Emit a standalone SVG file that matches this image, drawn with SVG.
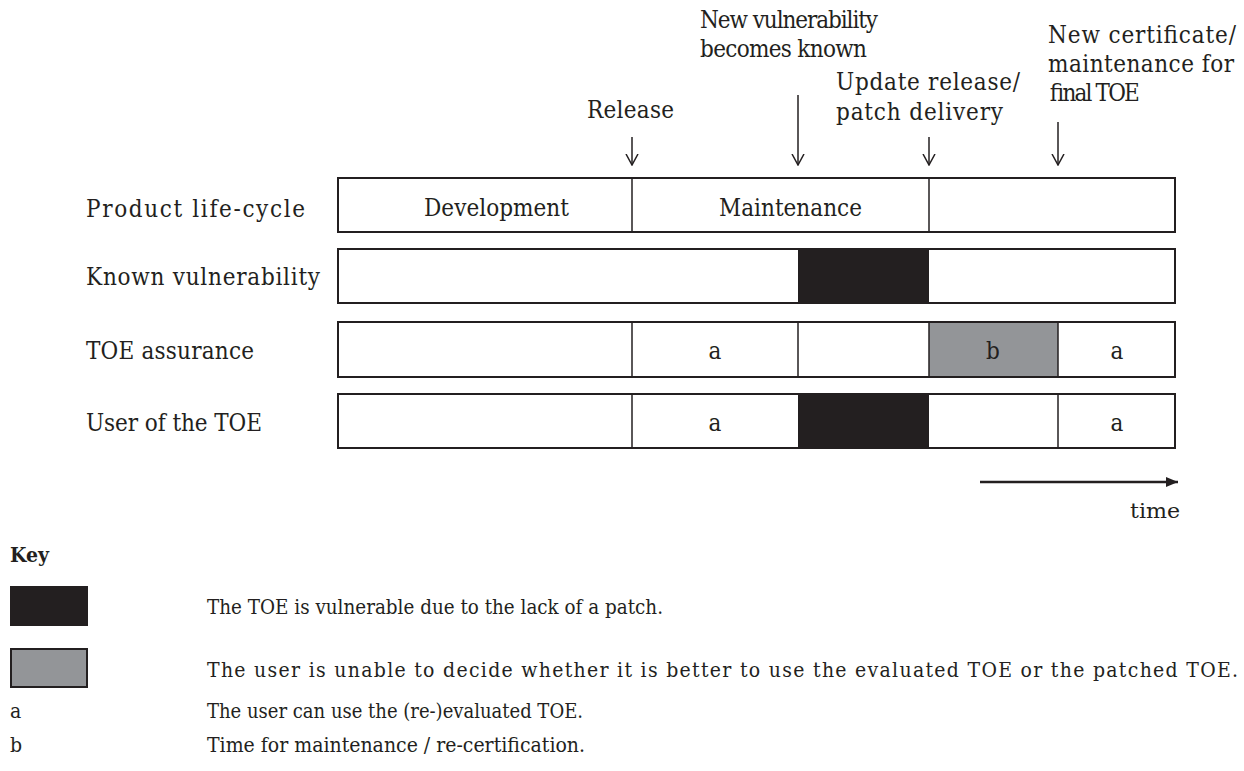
<svg xmlns="http://www.w3.org/2000/svg" width="1244" height="771" viewBox="0 0 1244 771">
<style>
.lbl{font-family:"DejaVu Serif Condensed","DejaVu Serif",serif;font-stretch:condensed;font-size:24px;fill:#231f20}
.key{font-family:"DejaVu Serif Condensed","DejaVu Serif",serif;font-stretch:condensed;font-size:21px;fill:#231f20}
.bar{fill:#fff;stroke:#231f20;stroke-width:2}
.div{stroke:#231f20;stroke-width:1.5}
.blk{fill:#231f20}
.gry{fill:#939598}
.arr{stroke:#231f20;stroke-width:1.5;fill:none}
</style>
<defs>
<marker id="open" viewBox="0 0 12 14" refX="11" refY="7" markerWidth="12" markerHeight="14" markerUnits="userSpaceOnUse" orient="auto">
<path d="M0,1 L11,7 L0,13" fill="none" stroke="#231f20" stroke-width="1.5"/>
</marker>
<marker id="fill" viewBox="0 0 12 10" refX="12" refY="5" markerWidth="12" markerHeight="10" markerUnits="userSpaceOnUse" orient="auto">
<path d="M0,0 L12,5 L0,10 Z" fill="#231f20"/>
</marker>
</defs>

<g id="event-labels">
<text class="lbl" x="587" y="118" textLength="87">Release</text>
<text class="lbl" x="700" y="28" textLength="178">New vulnerability</text>
<text class="lbl" x="700" y="57" textLength="167">becomes known</text>
<text class="lbl" x="836" y="90" textLength="184">Update release/</text>
<text class="lbl" x="836" y="120" textLength="167">patch delivery</text>
<text class="lbl" x="1048" y="43" textLength="188">New certificate/</text>
<text class="lbl" x="1048" y="72" textLength="186">maintenance for</text>
<text class="lbl" x="1048" y="101" textLength="90">final TOE</text>
</g>

<g id="connectors">
<line class="arr" x1="632" y1="137" x2="632" y2="165" marker-end="url(#open)"/>
<line class="arr" x1="798" y1="95" x2="798" y2="165" marker-end="url(#open)"/>
<line class="arr" x1="929" y1="137" x2="929" y2="165" marker-end="url(#open)"/>
<line class="arr" x1="1058" y1="122" x2="1058" y2="165" marker-end="url(#open)"/>
<line x1="980" y1="482" x2="1178" y2="482" stroke="#231f20" stroke-width="2.5" marker-end="url(#fill)"/>
</g>

<g id="row-labels">
<text class="lbl" x="86" y="217" textLength="219">Product life-cycle</text>
<text class="lbl" x="86" y="285" textLength="234">Known vulnerability</text>
<text class="lbl" x="86" y="359" textLength="168">TOE assurance</text>
<text class="lbl" x="86" y="431" textLength="176">User of the TOE</text>
</g>

<g id="row-product">
<rect class="bar" x="338" y="178" width="837" height="54"/>
<line class="div" x1="632" y1="178" x2="632" y2="232"/>
<line class="div" x1="929" y1="178" x2="929" y2="232"/>
<text class="lbl" x="424" y="216" textLength="145">Development</text>
<text class="lbl" x="719" y="216" textLength="143">Maintenance</text>
</g>

<g id="row-known">
<rect class="bar" x="338" y="249" width="837" height="54"/>
<rect class="blk" x="798" y="249" width="131" height="54"/>
</g>

<g id="row-assurance">
<rect class="bar" x="338" y="322" width="837" height="55"/>
<rect class="gry" x="929" y="322" width="129" height="55"/>
<line class="div" x1="632" y1="322" x2="632" y2="377"/>
<line class="div" x1="798" y1="322" x2="798" y2="377"/>
<line class="div" x1="929" y1="322" x2="929" y2="377"/>
<line class="div" x1="1058" y1="322" x2="1058" y2="377"/>
<rect x="338" y="322" width="837" height="55" fill="none" stroke="#231f20" stroke-width="2"/>
<text class="lbl" x="715" y="359" text-anchor="middle">a</text>
<text class="lbl" x="993" y="359" text-anchor="middle">b</text>
<text class="lbl" x="1117" y="359" text-anchor="middle">a</text>
</g>

<g id="row-user">
<rect class="bar" x="338" y="394" width="837" height="54"/>
<rect class="blk" x="798" y="394" width="131" height="54"/>
<line class="div" x1="632" y1="394" x2="632" y2="448"/>
<line class="div" x1="1058" y1="394" x2="1058" y2="448"/>
<text class="lbl" x="715" y="431" text-anchor="middle">a</text>
<text class="lbl" x="1117" y="431" text-anchor="middle">a</text>
</g>

<g id="time-label">
<text class="key" x="1130" y="518" textLength="50" lengthAdjust="spacingAndGlyphs">time</text>
</g>

<g id="key">
<text class="key" x="10" y="562" font-weight="bold">Key</text>
<rect class="blk" x="10" y="586" width="78" height="40"/>
<rect class="gry" x="11" y="649" width="76" height="38" stroke="#231f20" stroke-width="2"/>
<text class="key" x="207" y="614" textLength="456" lengthAdjust="spacingAndGlyphs">The TOE is vulnerable due to the lack of a patch.</text>
<text class="key" x="207" y="677" textLength="1031">The user is unable to decide whether it is better to use the evaluated TOE or the patched TOE.</text>
<text class="key" x="10" y="718">a</text>
<text class="key" x="207" y="718" textLength="376" lengthAdjust="spacingAndGlyphs">The user can use the (re-)evaluated TOE.</text>
<text class="key" x="10" y="752">b</text>
<text class="key" x="207" y="752" textLength="378" lengthAdjust="spacingAndGlyphs">Time for maintenance / re-certification.</text>
</g>
</svg>
